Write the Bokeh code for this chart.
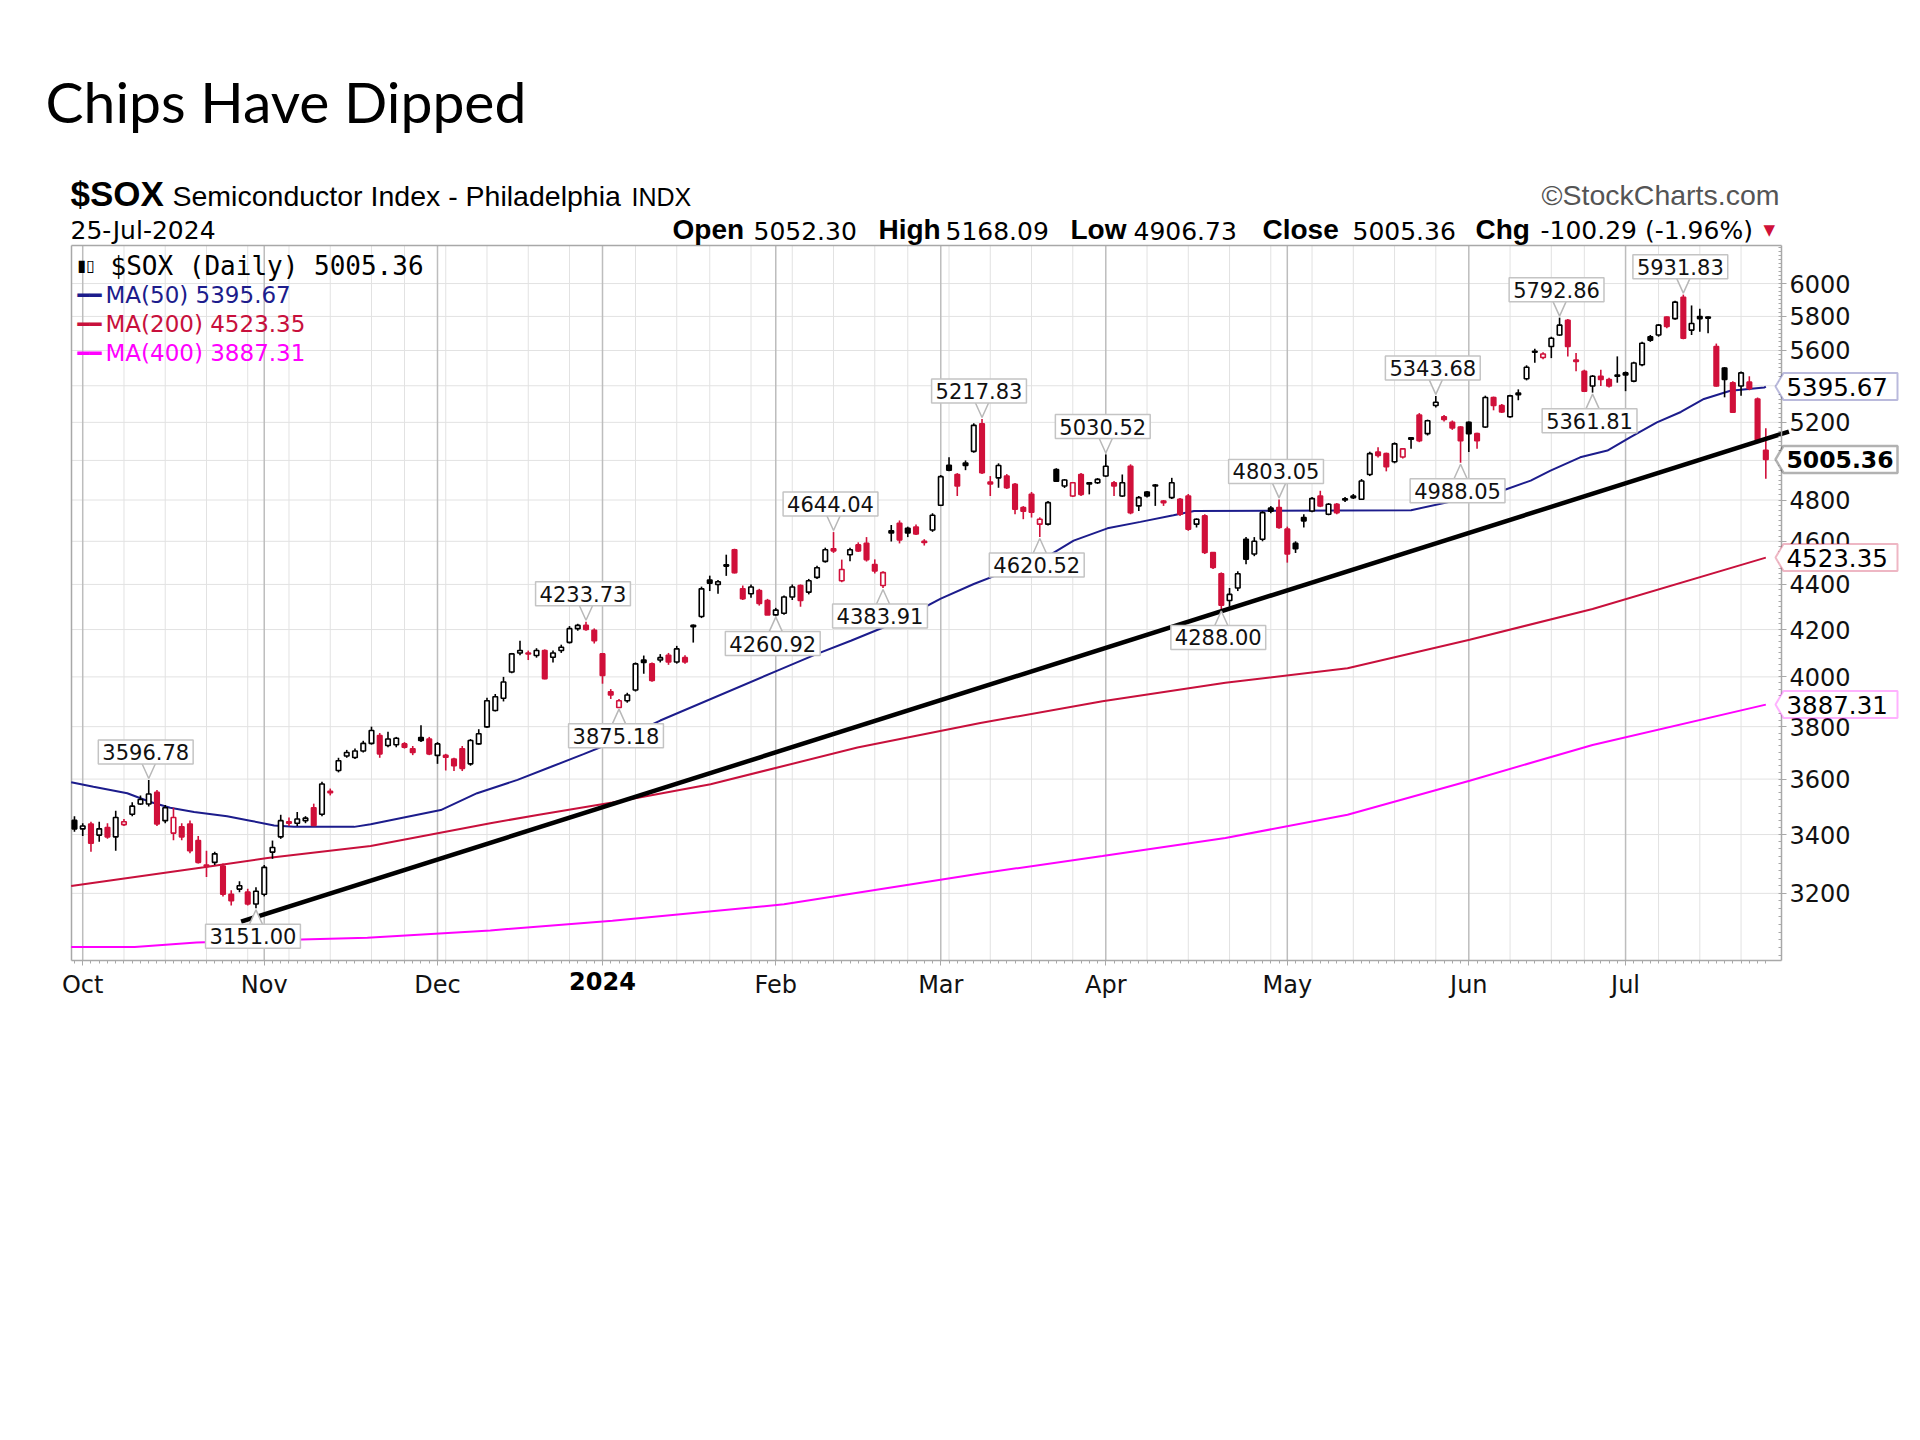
import math
import pandas as pd
from bokeh.plotting import figure
from bokeh.models import (Range1d, FixedTicker, Label, PolyAnnotation,
                          NumeralTickFormatter, ColumnDataSource)
from bokeh.embed import file_html
from bokeh.resources import INLINE

# ---------------- data ----------------
FIRST_DAY = "2023-09-29"
LAST_DAY = "2024-07-25"
HOLIDAYS = ["2023-11-23", "2023-12-25", "2024-01-01", "2024-01-15", "2024-02-19",
            "2024-03-29", "2024-05-27", "2024-06-19", "2024-07-04"]

OPEN = [3450, 3420, 3437, 3398, 3425, 3392, 3435, 3472, 3509, 3509,
        3551, 3449, 3405, 3427, 3437, 3379, 3295, 3304, 3291, 3197,
        3214, 3204, 3165, 3197, 3339, 3392, 3445, 3440, 3449, 3495,
        3472, 3555, 3632, 3687, 3681, 3706, 3735, 3765, 3727, 3730,
        3733, 3714, 3758, 3752, 3689, 3689, 3675, 3714, 3657, 3733,
        3799, 3864, 3913, 4020, 4100, 4100, 4089, 4110, 4082, 4110,
        4145, 4204, 4218, 4197, 4096, 3939, 3876, 3903, 3946, 4070,
        4054, 4070, 4090, 4062, 4080, 4218, 4257, 4420, 4400, 4490,
        4560, 4380, 4358, 4372, 4328, 4264, 4271, 4343, 4395, 4365,
        4432, 4506, 4565, 4417, 4537, 4583, 4591, 4491, 4395, 4650,
        4686, 4662, 4668, 4600, 4654, 4774, 4975, 4928, 4987, 5047,
        5192, 4890, 4911, 4920, 4878, 4763, 4828, 4682, 4682, 4953,
        4870, 4820, 4928, 4886, 4886, 4920, 4886, 4820, 4970, 4771,
        4840, 4875, 4795, 4812, 4804, 4820, 4682, 4722, 4547, 4449,
        4328, 4384, 4610, 4540, 4610, 4760, 4763, 4658, 4590, 4714,
        4746, 4820, 4730, 4779, 4800, 4812, 4804, 4928, 5043, 5035,
        4993, 5018, 5118, 5239, 5140, 5291, 5230, 5200, 5175, 5200,
        5140, 5175, 5335, 5291, 5230, 5360, 5439, 5595, 5560, 5623,
        5690, 5777, 5545, 5481, 5399, 5453, 5435, 5460, 5472, 5426,
        5518, 5680, 5690, 5797, 5787, 5916, 5719, 5800, 5797, 5623,
        5500, 5417, 5399, 5420, 5327, 5052.30]

HIGH = [3465, 3440, 3445, 3445, 3440, 3484, 3455, 3515, 3540, 3596.78,
        3560, 3505, 3495, 3440, 3450, 3395, 3344, 3340, 3300, 3210,
        3240, 3215, 3220, 3295, 3379, 3470, 3460, 3480, 3465, 3510,
        3590, 3565, 3680, 3710, 3715, 3745, 3800, 3775, 3780, 3760,
        3740, 3725, 3805, 3760, 3740, 3695, 3680, 3725, 3752, 3790,
        3915, 3930, 4000, 4100, 4152, 4110, 4120, 4115, 4110, 4135,
        4215, 4225, 4233.73, 4205, 4100, 3950, 3910, 3935, 4060, 4089,
        4060, 4095, 4100, 4130, 4090, 4222, 4390, 4440, 4420, 4537,
        4565, 4395, 4400, 4380, 4335, 4295, 4350, 4400, 4400, 4425,
        4485, 4570, 4644.04, 4514, 4570, 4595, 4620, 4515, 4460, 4678,
        4700, 4670, 4680, 4610, 4735, 4925, 5016, 4935, 5000, 5195,
        5217.83, 4920, 4985, 4930, 4885, 4770, 4840, 4715, 4795, 4960,
        4905, 4890, 4935, 4890, 4910, 5030.52, 4895, 4928, 4980, 4820,
        4845, 4880, 4800, 4911, 4810, 4830, 4710, 4730, 4550, 4455,
        4384, 4460, 4620, 4620, 4745, 4770, 4803.05, 4670, 4600, 4730,
        4815, 4846, 4785, 4785, 4815, 4830, 4905, 5045, 5068, 5040,
        5094, 5065, 5122, 5250, 5215, 5343.68, 5240, 5210, 5180, 5205,
        5145, 5345, 5340, 5300, 5350, 5380, 5515, 5610, 5590, 5680,
        5792.86, 5785, 5585, 5490, 5460, 5490, 5445, 5566, 5480, 5535,
        5650, 5690, 5755, 5800, 5895, 5931.83, 5866, 5846, 5800, 5640,
        5505, 5425, 5480, 5453, 5335, 5168.09]

LOW = [3410, 3395, 3340, 3375, 3385, 3344, 3430, 3465, 3505, 3500,
       3430, 3440, 3380, 3380, 3335, 3300, 3254, 3295, 3190, 3160,
       3204, 3160, 3151.00, 3190, 3316, 3385, 3430, 3430, 3440, 3430,
       3465, 3540, 3625, 3680, 3675, 3700, 3730, 3680, 3720, 3720,
       3715, 3690, 3740, 3690, 3657, 3632, 3630, 3630, 3650, 3730,
       3795, 3860, 3900, 4015, 4090, 4070, 4080, 3990, 4060, 4100,
       4140, 4195, 4195, 4140, 3972, 3910, 3875.18, 3895, 3940, 4013,
       3980, 4060, 4050, 4055, 4055, 4144, 4250, 4370, 4358, 4439,
       4450, 4330, 4340, 4305, 4265, 4260.92, 4265, 4330, 4300, 4355,
       4425, 4500, 4545, 4410, 4506, 4550, 4505, 4450, 4383.91, 4599,
       4590, 4620, 4630, 4580, 4645, 4770, 4945, 4820, 4950, 5040,
       4930, 4820, 4861, 4855, 4730, 4706, 4714, 4620.52, 4675, 4890,
       4860, 4815, 4820, 4828, 4880, 4915, 4820, 4815, 4730, 4746,
       4812, 4771, 4771, 4805, 4722, 4650, 4666, 4540, 4470, 4288.00,
       4300, 4370, 4493, 4530, 4600, 4735, 4660, 4500, 4545, 4666,
       4740, 4765, 4725, 4730, 4790, 4805, 4800, 4920, 5015, 4944,
       4985, 5010, 5060, 5095, 5130, 5280, 5205, 5160, 4988.05, 5043,
       5060, 5170, 5265, 5250, 5225, 5320, 5430, 5530, 5550, 5556,
       5685, 5566, 5481, 5365, 5361.81, 5399, 5390, 5417, 5370, 5420,
       5510, 5650, 5680, 5730, 5780, 5665, 5690, 5709, 5700, 5395,
       5336, 5250, 5345, 5375, 5090, 4906.73]

CLOSE = [3420, 3430, 3370, 3420, 3392, 3460, 3445, 3501, 3525, 3545,
         3437, 3495, 3460, 3392, 3344, 3304, 3290, 3333, 3197, 3176,
         3225, 3165, 3207, 3287, 3355, 3449, 3440, 3455, 3458, 3432,
         3582, 3550, 3669, 3700, 3706, 3735, 3785, 3695, 3752, 3755,
         3720, 3700, 3746, 3695, 3733, 3682, 3650, 3640, 3746, 3772,
         3903, 3919, 3979, 4096, 4110, 4096, 4110, 3993, 4100, 4124,
         4204, 4218, 4200, 4152, 4006, 3926, 3903, 3926, 4054, 4060,
         3985, 4080, 4062, 4117, 4062, 4212, 4380, 4405, 4412, 4484,
         4454, 4336, 4388, 4314, 4264, 4285, 4343, 4388, 4328, 4417,
         4476, 4560, 4555, 4468, 4560, 4555, 4514, 4461, 4454, 4640,
         4607, 4640, 4635, 4595, 4725, 4917, 4950, 4870, 4974, 5184,
         4937, 4880, 4974, 4861, 4755, 4745, 4740, 4706, 4787, 4894,
         4900, 4886, 4828, 4880, 4903, 4970, 4870, 4886, 4738, 4812,
         4820, 4870, 4787, 4886, 4730, 4658, 4706, 4547, 4478, 4307,
         4355, 4449, 4516, 4600, 4738, 4745, 4666, 4540, 4565, 4698,
         4807, 4771, 4779, 4738, 4806, 4820, 4895, 5035, 5026, 4968,
         5086, 5060, 5110, 5103, 5209, 5309, 5215, 5170, 5103, 5140,
         5103, 5335, 5291, 5256, 5344, 5350, 5504, 5590, 5580, 5671,
         5748, 5623, 5537, 5370, 5453, 5435, 5399, 5453, 5460, 5528,
         5642, 5660, 5748, 5740, 5886, 5671, 5758, 5787, 5790, 5399,
         5435, 5255, 5472, 5385, 5105.65, 5005.36]

# moving averages (trading-day index, value)
MA50_IDX = [-0.4, 2.3, 6.4, 9.2, 11.6, 14.5, 18.5, 21.3, 24.2, 26.6, 30.6, 33.9, 35.9,
            44.4, 48.8, 53.7, 57.7, 61.7, 65.8, 71, 85.2, 90, 94.1, 98.1, 102.1, 105,
            109, 113, 117.1, 121.1, 125.2, 129.2, 133.2, 135.7, 162, 173.3, 176.5,
            178.9, 182.5, 185.8, 188.6, 191.8, 194.7, 197.5, 200.7, 204.8, 205]
MA50_VAL = [3588, 3572, 3548, 3516, 3495, 3480, 3465, 3449, 3432, 3427, 3427, 3427, 3436,
            3487, 3548, 3597, 3645, 3694, 3746, 3824, 4026, 4096, 4152, 4210, 4280, 4336,
            4402, 4461, 4509, 4603, 4662, 4693, 4725, 4746, 4750, 4850, 4897,
            4948, 5016, 5051, 5122, 5200, 5256, 5327, 5372, 5390, 5395.67]
MA200_IDX = [-0.4, 15.7, 23.4, 35.9, 50.4, 56.3, 65.2, 77.1, 94.9, 109.8, 124.6,
             139.5, 154.3, 169.1, 184, 205]
MA200_VAL = [3224, 3287, 3319, 3360, 3440, 3470, 3514, 3581, 3719, 3814, 3901,
             3976, 4036, 4156, 4290, 4523.35]
MA400_IDX = [-0.4, 7.3, 14.8, 35.5, 50.4, 65.2, 86, 109.8, 124.6, 139.5, 154.3,
             169.1, 184, 205]
MA400_VAL = [3028, 3028, 3042, 3057, 3080, 3111, 3164, 3266, 3326, 3388, 3470,
             3594, 3729, 3887.31]

TREND_IDX = [20.2, 207.8]
TREND_VAL = [3108, 5151]

CALLOUT_IDX = [9, 22, 62, 66, 85, 92, 98, 110, 117, 125, 139, 146, 168, 165, 180, 184, 195]
CALLOUT_VAL = [3596.78, 3151.00, 4233.73, 3875.18, 4260.92, 4644.04, 4383.91, 5217.83,
               4620.52, 5030.52, 4288.00, 4803.05, 4988.05, 5343.68, 5792.86, 5361.81, 5931.83]
CALLOUT_SIDE = ["above", "below", "above", "below", "below", "above", "below", "above",
                "below", "above", "below", "above", "below", "above", "above", "below", "above"]

Y_TICKS = [3200, 3400, 3600, 3800, 4000, 4200, 4400, 4600, 4800, 5000, 5200, 5400, 5600, 5800, 6000]
MONTH_LABELS = ["Oct", "Nov", "Dec", "2024", "Feb", "Mar", "Apr", "May", "Jun", "Jul"]

TAG_VALUES = [5395.67, 5005.36, 4523.35, 3887.31]
TAG_COLORS = ["#1c1c8c", "#000000", "#c8103c", "#ff00ff"]
TAG_BOLD = [False, True, False, False]

LEGEND_MAIN = "$SOX (Daily) 5005.36"
LEGEND_MA = ["MA(50) 5395.67", "MA(200) 4523.35", "MA(400) 3887.31"]
HEADER_PAIRS = [("Open", "5052.30"), ("High", "5168.09"), ("Low", "4906.73"),
                ("Close", "5005.36"), ("Chg", "-100.29 (-1.96%)")]

# ---------------- derived ----------------
dates = [d for d in pd.bdate_range(FIRST_DAY, LAST_DAY) if d.strftime("%Y-%m-%d") not in HOLIDAYS]
n = len(dates)
idx = list(range(n))
month_starts = [i for i in range(1, n) if dates[i].month != dates[i - 1].month]
week_starts = [i for i in range(1, n) if dates[i].isocalendar()[1] != dates[i - 1].isocalendar()[1]]
week_only = [w for w in week_starts if w not in month_starts]

BLACK = "#000000"
RED = "#d0103a"
col, fill, top, bot = [], [], [], []
for i in range(n):
    o, c = OPEN[i], CLOSE[i]
    prev = CLOSE[i - 1] if i > 0 else None
    cc = BLACK if (prev is None or c >= prev) else RED
    col.append(cc)
    fill.append("white" if c > o else cc)
    top.append(max(o, c))
    bot.append(min(o, c))
src = ColumnDataSource(dict(x=idx, o=OPEN, h=HIGH, l=LOW, c=CLOSE, col=col, fill=fill, top=top, bot=bot))

# ---------------- layout ----------------
W, H = 1920, 1440
FL, FR, FT, FB = 71, 1781, 245, 960          # chart box on the canvas (px)
x0, x1 = -0.36, 206.9                         # visible trading-day span
y0, y1 = 2986, 6240                           # visible price span
xpp = (x1 - x0) / (FR - FL)
lpp = math.log(y1 / y0) / (FB - FT)
XS, XE = x0 - FL * xpp, x1 + (W - FR) * xpp
YB, YT = y0 * math.exp(-(H - FB) * lpp), y1 * math.exp(FT * lpp)

p = figure(width=W, height=H, x_range=Range1d(XS, XE), y_range=Range1d(YB, YT),
           y_axis_type="log", y_axis_location="right", output_backend="svg",
           toolbar_location=None, min_border=0, min_border_left=0, min_border_right=0,
           min_border_top=0, min_border_bottom=0)
p.background_fill_color = "white"
p.border_fill_color = "white"
p.outline_line_color = None
p.xgrid.visible = False
p.ygrid.visible = False

GRID = "#e2e2e2"
MGRID = "#bdbdbd"
FRAME = "#a8a8a8"

# grid lines limited to the chart box
p.segment(x0=[x0] * len(Y_TICKS), y0=Y_TICKS, x1=[x1] * len(Y_TICKS), y1=Y_TICKS,
          color=GRID, line_width=1)
p.segment(x0=week_only, y0=[y0] * len(week_only), x1=week_only, y1=[y1] * len(week_only),
          color=GRID, line_width=1)
p.segment(x0=month_starts, y0=[y0] * len(month_starts), x1=month_starts,
          y1=[y1] * len(month_starts), color=MGRID, line_width=1.5)

# axes drawn at the chart edges
xa = p.xaxis[0]
xa.fixed_location = y0
xa.bounds = (x0, x1)
xa.ticker = FixedTicker(ticks=month_starts, minor_ticks=idx)
xa.major_label_overrides = {m: (lab if lab != "2024" else " ") for m, lab in zip(month_starts, MONTH_LABELS)}
xa.major_label_text_font = "DejaVu Sans"
xa.major_label_text_font_size = "24px"
xa.major_label_text_color = "#111111"
xa.axis_line_color = FRAME
xa.axis_line_width = 1.5
xa.major_tick_line_color = FRAME
xa.minor_tick_line_color = FRAME
xa.major_tick_in = 0
xa.major_tick_out = 5
xa.minor_tick_in = 0
xa.minor_tick_out = 3
xa.major_label_standoff = 5

ya = p.yaxis[0]
ya.fixed_location = x1
ya.bounds = (y0, y1)
ya.ticker = FixedTicker(ticks=Y_TICKS, minor_ticks=list(range(3000, 6250, 25)))
ya.formatter = NumeralTickFormatter(format="0")
ya.major_label_text_font = "DejaVu Sans"
ya.major_label_text_font_size = "24px"
ya.major_label_text_color = "#111111"
ya.axis_line_color = FRAME
ya.axis_line_width = 1.5
ya.major_tick_line_color = FRAME
ya.minor_tick_line_color = FRAME
ya.major_tick_in = 0
ya.major_tick_out = 5
ya.minor_tick_in = 3
ya.minor_tick_out = 0
ya.major_label_standoff = 3

# the other two sides of the chart box
p.segment(x0=[x0, x0], y0=[y0, y1], x1=[x0, x1], y1=[y1, y1], color=FRAME, line_width=1.5)

# moving averages
p.line(MA400_IDX, MA400_VAL, color="#ff00ff", line_width=2)
p.line(MA200_IDX, MA200_VAL, color="#c8103c", line_width=2)
p.line(MA50_IDX, MA50_VAL, color="#1c1c8c", line_width=2)

# candles
p.segment(x0="x", y0="l", x1="x", y1="h", color="col", line_width=1.6, source=src)
p.vbar(x="x", width=0.55, top="top", bottom="bot", fill_color="fill", line_color="col",
       line_width=1.6, source=src)

# trend line
p.line(TREND_IDX, TREND_VAL, color="black", line_width=4.5)

# callouts
for i, v, side in zip(CALLOUT_IDX, CALLOUT_VAL, CALLOUT_SIDE):
    s = 1 if side == "above" else -1
    tip = v * math.exp(s * 1.5 * lpp)
    base = v * math.exp(s * 17 * lpp)
    xs = [i - 7 * xpp, i, i + 7 * xpp]
    ys = [base, tip, base]
    p.patch(xs, ys, fill_color="white", line_color=None)
    p.line(xs, ys, color="#b8b8b8", line_width=1.5)
    p.add_layout(Label(x=i, y=v, x_offset=-3, y_offset=s * 28, text=f"{v:.2f}",
                       text_font="DejaVu Sans", text_font_size="21px", text_color="#111111",
                       text_align="center", text_baseline="middle",
                       background_fill_color="white", border_line_color="#c4c4c4",
                       border_line_width=1.5, padding=4))

# right-edge value tags
for v, c, b in zip(TAG_VALUES, TAG_COLORS, TAG_BOLD):
    yt = v * math.exp(13.5 * lpp)
    yb = v * math.exp(-13.5 * lpp)
    xs = [x1 - 6 * xpp, x1 + 2 * xpp, x1 + 116 * xpp, x1 + 116 * xpp, x1 + 2 * xpp]
    ys = [v, yt, yt, yb, yb]
    p.add_layout(PolyAnnotation(xs=xs, ys=ys, fill_color="white", fill_alpha=1.0,
                                line_color=c, line_width=2.5 if b else 2))
    p.add_layout(Label(x=x1, y=v, x_offset=5, text=f"{v:.2f}", text_font="DejaVu Sans",
                       text_font_size="23.5px" if b else "24.5px", text_color="#000000",
                       text_font_style="bold" if b else "normal",
                       text_align="left", text_baseline="middle"))


def add_label(text, dx, dy, size, color="#000000", font="DejaVu Sans", style="normal",
              align="left", baseline="middle", ax=x0, ay=y1):
    p.add_layout(Label(x=ax, y=ay, x_offset=dx, y_offset=dy, text=text, text_font=font,
                       text_font_size=size, text_color=color, text_font_style=style,
                       text_align=align, text_baseline=baseline))


# legend (inside chart, top-left)
add_label("\u25AE\u25AF", 6, -20, "16px")
add_label(LEGEND_MAIN, 39, -20, "26px", font="DejaVu Sans Mono")
for k, (t, c) in enumerate(zip(LEGEND_MA, ["#1c1c8c", "#c8103c", "#ff00ff"])):
    add_label("\u2501\u2501", 6, -49 - 29 * k, "20px", color=c)
    add_label(t, 34, -49 - 29 * k, "23px", color=c)

# bold year label on x axis
add_label(MONTH_LABELS[3], 0, -20, "24px", style="bold", align="center",
          ax=month_starts[3], ay=y0)

# header
add_label("$SOX", -1, 52, "35px", font="Liberation Sans", style="bold", baseline="alphabetic")
add_label("Semiconductor Index - Philadelphia", 101, 50, "28.5px", font="Liberation Sans",
          baseline="alphabetic")
add_label("INDX", 560, 49, "25px", font="Liberation Sans", baseline="alphabetic")
add_label("25-Jul-2024", -1, 15, "25px", baseline="alphabetic")
add_label("\u00A9StockCharts.com", 1708, 51, "28.5px", color="#555555", font="Liberation Sans",
          align="right", baseline="alphabetic")
word_x = [601, 682, 807, 874, 999, 1062, 1191, 1281, 1404, 1469]
k = 0
for lab, val in HEADER_PAIRS:
    add_label(lab, word_x[k], 16, "28px", font="Liberation Sans", style="bold", baseline="alphabetic")
    add_label(val, word_x[k + 1], 15, "25px", baseline="alphabetic")
    k += 2
add_label("\u25BC", 1692, 16, "15px", color=RED, baseline="alphabetic")

# slide title
add_label("Chips Have Dipped", -26, 145, "57px", font="Lato", baseline="alphabetic")

open("out.html", "w").write(file_html(p, INLINE))
